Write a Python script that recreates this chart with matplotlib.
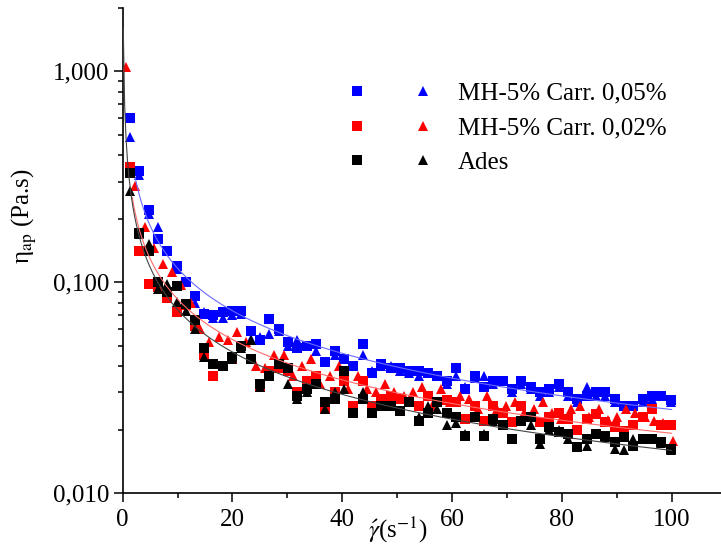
import numpy as np
import matplotlib
matplotlib.use('Agg')
import matplotlib.pyplot as plt
from matplotlib.legend_handler import HandlerTuple
from matplotlib.ticker import FixedLocator, FuncFormatter, LogLocator, NullFormatter, MultipleLocator

plt.rcParams['font.family'] = ['Liberation Serif', 'DejaVu Serif']
plt.rcParams['mathtext.fontset'] = 'stix'

# ---- data ----
gamma = [1.3, 3.0, 4.7, 6.4, 8.1, 9.8, 11.5, 13.2, 14.9, 16.5, 18.2, 19.9, 21.6, 23.3, 25.0,
         26.7, 28.4, 30.1, 31.8, 33.5, 35.2, 36.9, 38.6, 40.3, 42.0, 43.7, 45.4, 47.1, 48.8,
         50.5, 52.2, 53.9, 55.6, 57.3, 59.0, 60.7, 62.4, 64.1, 65.8, 67.5, 69.2, 70.9, 72.6,
         74.3, 76.0, 77.7, 79.4, 81.1, 82.8, 84.5, 86.2, 87.9, 89.6, 91.3, 93.0, 94.7, 96.4,
         98.1, 99.8]
gamma_red_tri = [0.6, 2.3, 4.0, 5.7, 7.3, 9.0, 10.7, 12.4, 14.1, 15.8, 17.5, 19.2, 20.8, 22.5,
                 24.2, 25.9, 27.6, 29.3, 31.0, 32.7, 34.3, 36.0, 37.7, 39.4, 41.1, 42.8, 44.5,
                 46.2, 47.8, 49.5, 51.2, 52.9, 54.6, 56.3, 58.0, 59.7, 61.4, 63.0, 64.7, 66.4,
                 68.1, 69.8, 71.5, 73.2, 74.9, 76.5, 78.2, 79.9, 81.6, 83.3, 85.0, 86.7, 88.4,
                 90.1, 91.7, 93.4, 95.1, 96.8, 98.5, 100.2]

blue_sq = [0.60, 0.337, 0.219, 0.160, 0.141, 0.120, 0.100, 0.086, 0.071, 0.070,
           0.072, 0.073, 0.073, 0.059, 0.053, 0.067, 0.060, 0.052, 0.049, 0.050,
           0.051, 0.042, 0.047, 0.043, 0.040, 0.051, 0.037, 0.041, 0.039, 0.039,
           0.038, 0.038, 0.037, 0.036, 0.034, 0.039, 0.031, 0.036, 0.032, 0.034,
           0.034, 0.031, 0.034, 0.032, 0.030, 0.031, 0.033, 0.030, 0.028, 0.029,
           0.030, 0.030, 0.028, 0.026, 0.026, 0.028, 0.029, 0.029, 0.0276]
blue_tri = [0.49, 0.321, 0.210, 0.182, 0.141, 0.115, 0.100, 0.080, 0.072, 0.068,
            0.068, 0.070, 0.071, 0.054, 0.055, 0.057, 0.059, 0.050, 0.053, 0.050,
            0.047, 0.042, 0.045, 0.043, 0.040, 0.045, 0.038, 0.040, 0.040, 0.038,
            0.037, 0.036, 0.037, 0.036, 0.033, 0.036, 0.032, 0.035, 0.036, 0.033,
            0.034, 0.030, 0.033, 0.031, 0.029, 0.030, 0.032, 0.029, 0.027, 0.032,
            0.029, 0.029, 0.027, 0.026, 0.026, 0.027, 0.028, 0.029, 0.027]
red_sq = [0.353, 0.141, 0.098, 0.095, 0.084, 0.072, 0.078, 0.062, 0.045, 0.036,
          0.040, 0.043, 0.050, 0.043, 0.032, 0.038, 0.039, 0.038, 0.030, 0.034,
          0.036, 0.025, 0.030, 0.034, 0.026, 0.034, 0.026, 0.028, 0.029, 0.028,
          0.027, 0.026, 0.029, 0.027, 0.0275, 0.027, 0.0224, 0.026, 0.022, 0.026,
          0.024, 0.0218, 0.026, 0.023, 0.0217, 0.023, 0.024, 0.0225, 0.0199, 0.0225,
          0.0237, 0.0218, 0.0205, 0.0196, 0.021, 0.023, 0.025, 0.021, 0.021]
red_tri = [1.05, 0.286, 0.182, 0.145, 0.122, 0.112, 0.097, 0.080, 0.060, 0.052,
           0.055, 0.053, 0.058, 0.052, 0.040, 0.039, 0.045, 0.045, 0.036, 0.040,
           0.043, 0.033, 0.036, 0.040, 0.031, 0.036, 0.031, 0.030, 0.033, 0.030,
           0.029, 0.030, 0.032, 0.026, 0.031, 0.027, 0.029, 0.028, 0.025, 0.029,
           0.025, 0.026, 0.027, 0.024, 0.025, 0.027, 0.024, 0.0225, 0.025, 0.026,
           0.023, 0.025, 0.0222, 0.023, 0.025, 0.024, 0.023, 0.022, 0.0215, 0.0177]
black_sq = [0.331, 0.172, 0.141, 0.100, 0.090, 0.096, 0.079, 0.066, 0.049, 0.041,
            0.040, 0.044, 0.050, 0.043, 0.033, 0.036, 0.041, 0.039, 0.029, 0.031,
            0.033, 0.027, 0.028, 0.038, 0.024, 0.028, 0.024, 0.026, 0.026, 0.0245,
            0.027, 0.022, 0.024, 0.027, 0.024, 0.023, 0.0187, 0.023, 0.0187, 0.0224,
            0.021, 0.018, 0.022, 0.023, 0.018, 0.0205, 0.0195, 0.019, 0.0165, 0.018,
            0.019, 0.0187, 0.0174, 0.0185, 0.0167, 0.018, 0.018, 0.0174, 0.0162]
black_tri = [0.271, 0.170, 0.152, 0.093, 0.098, 0.081, 0.073, 0.060, 0.044, 0.041,
             0.040, 0.043, 0.049, 0.053, 0.032, 0.036, 0.041, 0.033, 0.028, 0.030,
             0.033, 0.025, 0.030, 0.031, 0.024, 0.030, 0.024, 0.026, 0.026, 0.0246,
             0.027, 0.0229, 0.026, 0.025, 0.021, 0.0215, 0.019, 0.023, 0.019, 0.022,
             0.021, 0.018, 0.022, 0.021, 0.017, 0.020, 0.020, 0.018, 0.0165, 0.0168,
             0.019, 0.0185, 0.0162, 0.016, 0.018, 0.018, 0.018, 0.0172, 0.016]

labels = ['MH-5% Carr. 0,05%', 'MH-5% Carr. 0,02%', 'Ades']
colors = ['#0000ff', '#ff0000', '#000000']
line_colors = ['#6a6aff', '#ff6a6a', '#444444']
fit_start = [2.3, 1.75, 0.1]
y_ticks = [0.01, 0.1, 1.0]
x_ticks = [0, 20, 40, 60, 80, 100]

series = [
    (gamma, blue_sq, gamma, blue_tri),
    (gamma, red_sq, gamma_red_tri, red_tri),
    (gamma, black_sq, gamma, black_tri),
]

fig = plt.figure(figsize=(7.21, 5.52), dpi=100)
ax = fig.add_axes([0.1702, 0.1069, 0.8298, 0.8786])

handles = []
for i, (xs, ys, xt, yt) in enumerate(series):
    h1, = ax.plot(xs, ys, 's', color=colors[i], ms=6.6, mew=0, zorder=3 + i)
    h2, = ax.plot(xt, yt, '^', color=colors[i], ms=7.8, mew=0, zorder=3 + i)
    handles.append((h1, h2))
    # power-law fit of the series
    xa = np.concatenate([xs, xt])
    ya = np.concatenate([ys, yt])
    b, a = np.polyfit(np.log10(xa), np.log10(ya), 1)
    xf = np.linspace(fit_start[i], 100, 400)
    ax.plot(xf, 10 ** (a + b * np.log10(xf)), '-', color=line_colors[i], lw=0.8, zorder=8)

ax.set_yscale('log')
ax.set_ylim(0.01, 2.0)
ax.set_xlim(0, 109)

ax.yaxis.set_major_locator(FixedLocator(y_ticks))
ax.yaxis.set_major_formatter(FuncFormatter(lambda v, p: f"{v:.3f}".replace('.', ',')))
ax.yaxis.set_minor_locator(LogLocator(base=10, subs=np.arange(2, 10)))
ax.yaxis.set_minor_formatter(NullFormatter())
ax.xaxis.set_major_locator(FixedLocator(x_ticks))
ax.xaxis.set_minor_locator(MultipleLocator(10))

for s in ['top', 'right']:
    ax.spines[s].set_visible(False)
for s in ['left', 'bottom']:
    ax.spines[s].set_linewidth(1.2)

ax.tick_params(which='major', direction='out', length=6.5, width=1.1, labelsize=18, pad=3)
ax.tick_params(which='minor', direction='out', length=3.5, width=1.1)
ax.tick_params(axis='x', which='major', pad=5)

ax.set_ylabel('η$_{\\mathrm{ap}}$ (Pa.s)', fontsize=18)
ax.yaxis.set_label_coords(-0.14, 0.571)
ax.text(0.46, -0.077, r'$\acute{\gamma}$(s$^{\mathrm{-1}}$)', transform=ax.transAxes,
        fontsize=18, ha='center', va='center')

leg = fig.legend(handles, labels, handler_map={tuple: HandlerTuple(ndivide=None, pad=0)},
                 loc='upper left', bbox_to_anchor=(324 / 721, 1 - 82 / 552),
                 frameon=False, fontsize=18, handlelength=5.28, handletextpad=0.08,
                 labelspacing=0.49, borderpad=0, borderaxespad=0, numpoints=1)

fig.savefig('out.png', dpi=100)
